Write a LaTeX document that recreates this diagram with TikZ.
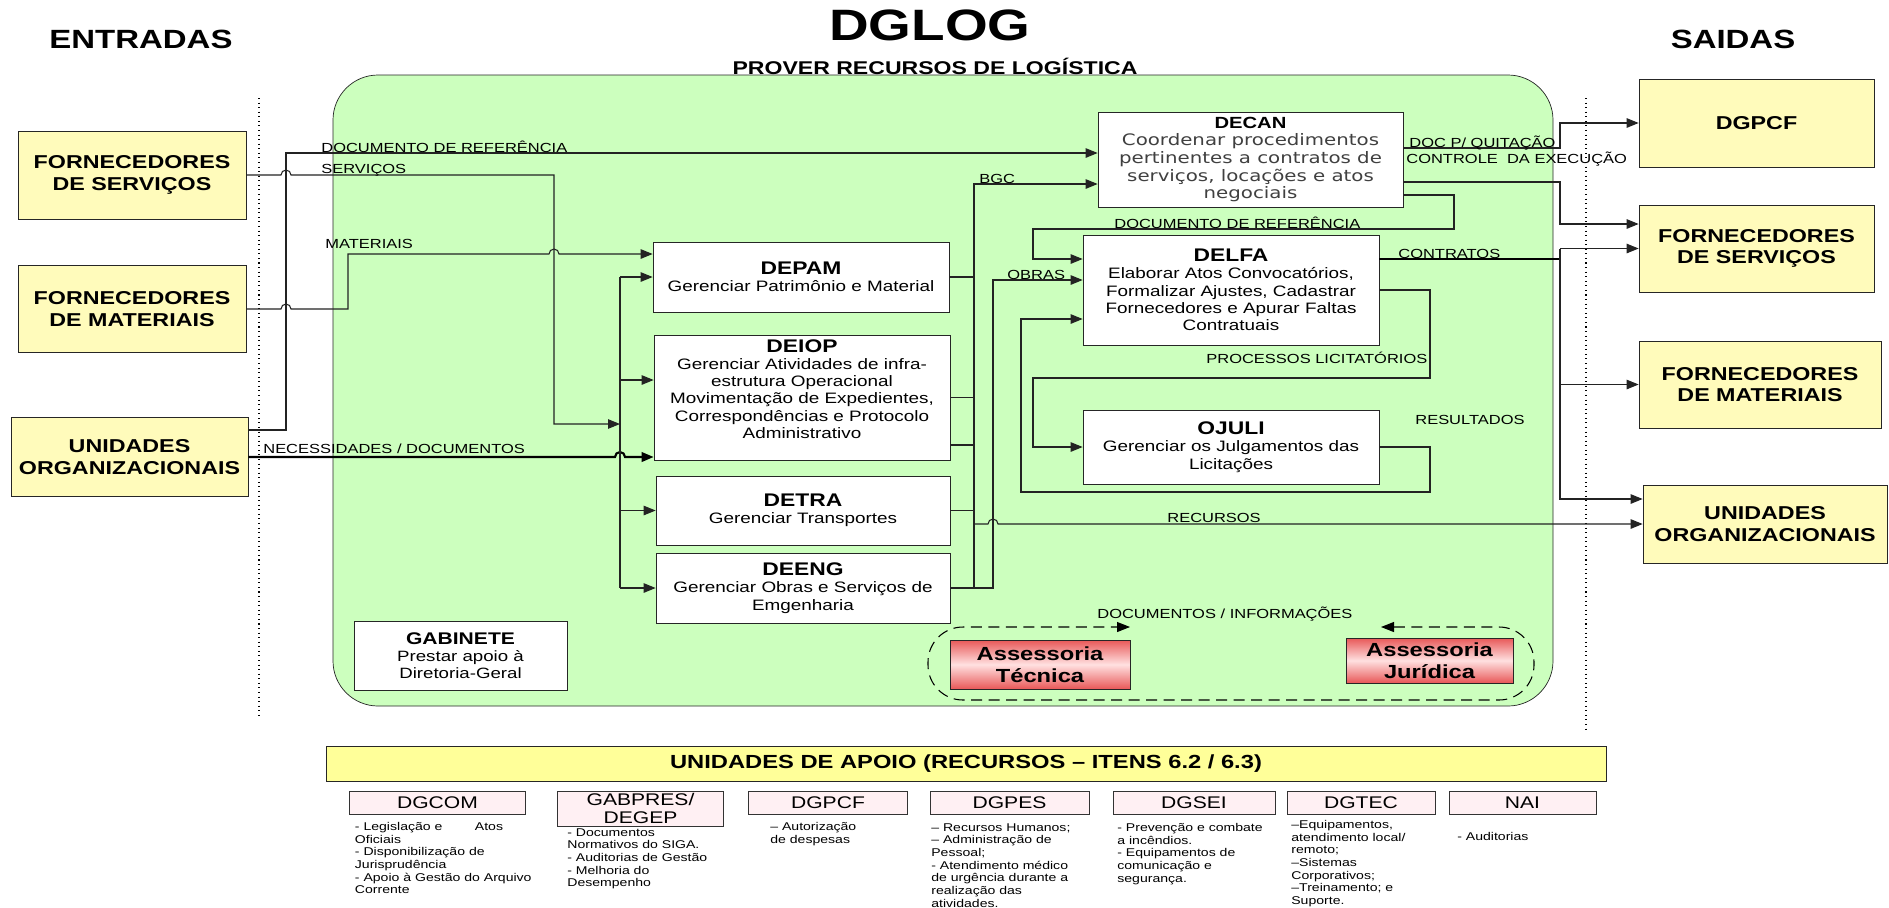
\documentclass[tikz,border=0pt]{standalone}
\usepackage{fontspec}
\setmainfont{Liberation Sans}[FakeStretch=1.25]
\newfontfamily\decanfont{DejaVu Sans}[FakeStretch=1.25]
\usetikzlibrary{arrows.meta,positioning,calc}
\definecolor{ioyellow}{RGB}{255,251,187}
\definecolor{procgreen}{RGB}{204,255,190}
\definecolor{apoioyellow}{RGB}{255,255,153}
\definecolor{apoiopink}{RGB}{255,240,243}
\definecolor{assred}{RGB}{232,88,88}
\definecolor{lineg}{RGB}{35,35,35}
\newcommand{\boxtitle}[1]{{\fontsize{10.4}{11}\selectfont\bfseries #1}}
\newcommand{\hop}{arc[start angle=180,end angle=360,radius=5]}

\begin{document}
\begin{tikzpicture}[x=0.2mm, y=-0.2mm,
    iobox/.style={rectangle, draw=black!85, fill=ioyellow, align=center,
                  font=\fontsize{10.6}{12.2}\selectfont\bfseries, inner sep=1pt},
    procbox/.style={rectangle, draw=black!85, fill=white, align=center,
                    font=\fontsize{8.6}{9.8}\selectfont, inner sep=1pt},
    assbox/.style={rectangle, draw=black!85, top color=assred, bottom color=assred,
                   middle color=white!88!red, align=center,
                   font=\fontsize{10.8}{12.4}\selectfont\bfseries, inner sep=1pt},
    supbox/.style={rectangle, draw=black!80, fill=apoiopink, align=center,
                   font=\fontsize{9.6}{9.8}\selectfont, inner sep=1pt, minimum height=4.6mm},
    supnote/.style={anchor=north west, align=left, inner sep=0pt,
                    font=\fontsize{6.4}{7.2}\selectfont},
    lbl/.style={anchor=base west, inner sep=0pt, font=\fontsize{7.5}{8}\selectfont},
    link/.style={draw=lineg, line width=0.6pt},
    flow/.style={link, -{Triangle[length=2.4mm,width=1.9mm]}},
    heavy/.style={draw=black, line width=1.2pt},
    dashloop/.style={draw=black, line width=0.6pt, dash pattern=on 2.2mm off 1.3mm,
                     rounded corners=7mm,
                     {Triangle[length=2.6mm,width=2mm]}-{Triangle[length=2.6mm,width=2mm]}}
  ]
    \useasboundingbox (0,0) rectangle (1889,907);

    % Process area
    \draw[draw=black!85, fill=procgreen, rounded corners=9mm] (333,75) rectangle (1553,706);
    \draw[dotted, line width=0.6pt] (259,98) -- (259,719);
    \draw[dotted, line width=0.6pt] (1586,98) -- (1586,733);

    % Titles
    \node[anchor=base, font=\fontsize{15}{18}\selectfont\bfseries] (entradas) at (141,48) {ENTRADAS};
    \node[anchor=base, font=\fontsize{15}{18}\selectfont\bfseries] (saidas) at (1733,48) {SAIDAS};
    \node[anchor=base, font=\fontsize{25}{30}\selectfont\bfseries] (dglog) at (930,40) {DGLOG};
    \node[anchor=base, font=\fontsize{10.5}{12}\selectfont\bfseries] (prover) at (935,74)
      {PROVER RECURSOS DE LOGÍSTICA};

    % Inputs
    \node[iobox, minimum width=45.6mm, minimum height=17.6mm] (fsin) at (132,175) {FORNECEDORES\\DE SERVIÇOS};
    \node[iobox, minimum width=45.6mm, minimum height=17.4mm] (fmin) at (132,309) {FORNECEDORES\\DE MATERIAIS};
    \node[iobox, minimum width=47.4mm, minimum height=15.8mm] (uoin) at (129.5,457) {UNIDADES\\ORGANIZACIONAIS};

    % Outputs
    \node[iobox, minimum width=47mm, minimum height=17.6mm] (dgpcfout) at (1756.5,123) {DGPCF};
    \node[iobox, minimum width=47mm, minimum height=17.4mm] (fsout) at (1756.5,248.5) {FORNECEDORES\\DE SERVIÇOS};
    \node[iobox, minimum width=48.4mm, minimum height=17.4mm] (fmout) at (1760,384.5) {FORNECEDORES\\DE MATERIAIS};
    \node[iobox, minimum width=48.8mm, minimum height=15.6mm] (uoout) at (1765,524) {UNIDADES\\ORGANIZACIONAIS};

    % Departments
    \node[procbox, minimum width=59.2mm, minimum height=14mm] (depam) at (801,277)
      {\boxtitle{DEPAM}\\Gerenciar Patrimônio e Material};
    \node[procbox, minimum width=59.2mm, minimum height=25mm] (deiop) at (802,397.5)
      {\boxtitle{DEIOP}\\Gerenciar Atividades de infra-\\estrutura Operacional\\Movimentação de Expedientes,\\Correspondências e Protocolo\\Administrativo\\\mbox{}};
    \node[procbox, minimum width=58.8mm, minimum height=13.8mm] (detra) at (803,510.5)
      {\boxtitle{DETRA}\\Gerenciar Transportes};
    \node[procbox, minimum width=58.8mm, minimum height=14mm] (deeng) at (803,588)
      {\boxtitle{DEENG}\\Gerenciar Obras e Serviços de\\Emgenharia};
    \node[procbox, minimum width=61mm, minimum height=19mm, text=black!75,
          font=\decanfont\fontsize{9}{10}\selectfont] (decan) at (1250.5,159.5)
      {{\rmfamily\fontsize{9.2}{10}\selectfont\bfseries\color{black}DECAN}\\Coordenar procedimentos\\pertinentes a contratos de\\serviços, locações e atos\\negociais};
    \node[procbox, minimum width=59.2mm, minimum height=22mm] (delfa) at (1231,290)
      {\boxtitle{DELFA}\\Elaborar Atos Convocatórios,\\Formalizar Ajustes, Cadastrar\\Fornecedores e Apurar Faltas\\Contratuais};
    \node[procbox, minimum width=59.2mm, minimum height=14.8mm] (ojuli) at (1231,447)
      {\boxtitle{OJULI}\\Gerenciar os Julgamentos das\\Licitações};
    \node[procbox, minimum width=42.6mm, minimum height=13.8mm, font=\fontsize{8.5}{9.8}\selectfont] (gabinete) at (460.5,655.5)
      {{\fontsize{9.6}{11}\selectfont\bfseries GABINETE}\\Prestar apoio à\\Diretoria-Geral};
    \node[assbox, minimum width=36mm, minimum height=9.8mm] (asstec) at (1040,664.5) {Assessoria\\Técnica};
    \node[assbox, minimum width=33.4mm, minimum height=9mm] (assjur) at (1429.5,660.5) {Assessoria\\Jurídica};

    % Support units
    \node[rectangle, draw=black!85, fill=apoioyellow, minimum width=256mm, minimum height=7mm,
          font=\fontsize{10.8}{12}\selectfont\bfseries] (apoio) at (966,763.5)
      {UNIDADES DE APOIO (RECURSOS – ITENS 6.2 / 6.3)};
    \node[supbox, minimum width=35.2mm] (dgcom) at (437.5,802.5) {DGCOM};
    \node[supbox, minimum width=33.2mm, minimum height=7mm] (gabpres) at (640.5,808.5) {GABPRES/\\DEGEP};
    \node[supbox, minimum width=31.9mm] (dgpcf) at (828,802.5) {DGPCF};
    \node[supbox, minimum width=31.8mm] (dgpes) at (1009.5,802.5) {DGPES};
    \node[supbox, minimum width=32.4mm] (dgsei) at (1194,802.5) {DGSEI};
    \node[supbox, minimum width=29.6mm] (dgtec) at (1361,802.5) {DGTEC};
    \node[supbox, minimum width=29.4mm] (nai) at (1522.5,802.5) {NAI};

    \node[supnote] (ndgcom) at (354.6,822)
      {- Legislação e\hspace{6.5mm}Atos\\Oficiais\\- Disponibilização de\\Jurisprudência\\- Apoio à Gestão do Arquivo\\Corrente};
    \node[supnote] (ngabpres) at (567,828)
      {- Documentos\\Normativos do SIGA.\\- Auditorias de Gestão\\- Melhoria do\\Desempenho};
    \node[supnote] (ndgpcf) at (770,822) {– Autorização\\de despesas};
    \node[supnote] (ndgpes) at (931,823)
      {– Recursos Humanos;\\– Administração de\\Pessoal;\\- Atendimento médico\\de urgência durante a\\realização das\\atividades.};
    \node[supnote] (ndgsei) at (1117,823)
      {- Prevenção e combate\\a incêndios.\\- Equipamentos de\\comunicação e\\segurança.};
    \node[supnote] (ndgtec) at (1291,820)
      {–Equipamentos,\\atendimento local/\\remoto;\\–Sistemas\\Corporativos;\\–Treinamento; e\\Suporte.};
    \node[supnote] (nnai) at (1457,832) {- Auditorias};

    % Bend points
    \coordinate (dA) at (286,430);
    \coordinate (dB) at (286,153);
    \coordinate (sA) at (554,175);
    \coordinate (sB) at (554,424);
    \coordinate (mA) at (348,309);
    \coordinate (mB) at (348,254);
    \coordinate (bIn) at (620,0);
    \coordinate (bOut) at (974,0);
    \coordinate (bObr) at (993,0);
    \coordinate (gB) at (974,184);
    \coordinate (oB) at (993,280);
    \coordinate (vR) at (1560,0);
    \coordinate (lA) at (1454,229);
    \coordinate (lB) at (1033,229);
    \coordinate (pA) at (1430,378);
    \coordinate (pB) at (1033,378);
    \coordinate (rA) at (1430,492);
    \coordinate (rB) at (1021,492);
    % hop starts
    \coordinate (hS) at (281,175);
    \coordinate (hM) at (281,309);
    \coordinate (hMa) at (549,254);
    \coordinate (hN) at (615,457);
    \coordinate (hR) at (988,524);

    % Inputs to departments
    \draw[flow] (uoin.east |- dA) -- (dA) -- (dB) -- (decan.west |- dB);
    \draw[flow] (fsin.east) -- (hS) \hop -- (sA) -- (sB) -- (sB -| bIn);
    \draw[flow] (fmin.east) -- (hM) \hop -- (mA) -- (mB) -- (hMa) \hop -- (depam.west |- mB);
    \draw[flow, heavy] (uoin.east) -- (hN) \hop -- (deiop.west |- uoin.east);

    \draw[link] (depam.west -| bIn) -- (deeng.west -| bIn);
    \draw[flow] (depam.west -| bIn) -- (depam.west);
    \draw[flow] ([yshift=3.5mm]deiop.west -| bIn) -- ([yshift=3.5mm]deiop.west);
    \draw[flow] (detra.west -| bIn) -- (detra.west);
    \draw[flow] (deeng.west -| bIn) -- (deeng.west);

    % Department outputs
    \draw[flow] (deeng.east -| bOut) -- (gB) -- (decan.west |- gB);
    \draw[link] (depam.east) -- (depam.east -| bOut);
    \draw[link] (deiop.east) -- (deiop.east -| bOut);
    \draw[link] ([yshift=-9.5mm]deiop.east) -- ([yshift=-9.5mm]deiop.east -| bOut);
    \draw[link] (detra.east) -- (detra.east -| bOut);
    \draw[flow] (deeng.east) -- (deeng.east -| bObr) -- (oB) -- (delfa.west |- oB);
    \draw[flow] (uoout.west -| bOut) -- (hR) \hop -- (uoout.west);

    % DECAN
    \draw[flow] ([yshift=2.3mm]decan.east) -| (vR |- dgpcfout.west) -- (dgpcfout.west);
    \draw[flow] ([yshift=-4.5mm]decan.east) -| ([yshift=4.9mm]fsout.west -| vR) -- ([yshift=4.9mm]fsout.west);
    \draw[flow] ([yshift=-7.1mm]decan.east) -| (lA) -- (lB) |- ([yshift=6.2mm]delfa.west);

    % DELFA and OJULI
    \draw[heavy] ([yshift=6.2mm]delfa.east) -- ([yshift=6.2mm]delfa.east -| vR);
    \draw[flow] (fsout.west -| vR) -- (fsout.west);
    \draw[flow] (fsout.west -| vR) -- ([yshift=5mm]uoout.west -| vR) -- ([yshift=5mm]uoout.west);
    \draw[flow] (fmout.west -| vR) -- (fmout.west);
    \draw[flow] (delfa.east) -| (pA) -- (pB) |- (ojuli.west);
    \draw[flow] (ojuli.east) -| (rA) -- (rB) |- ([yshift=-5.8mm]delfa.west);

    % Advisory loop
    \coordinate (ddL) at (1130,627);
    \coordinate (ddR) at (1381,627);
    \coordinate (dNW) at (928,627);
    \coordinate (dSE) at (1534,700);
    \draw[dashloop] (ddR) -- (dSE |- ddR) -- (dSE) -- (dNW |- dSE) -- (dNW) -- (ddL);

    % Flow labels
    \node[lbl] (lDocA) at (321,152) {DOCUMENTO DE REFERÊNCIA};
    \node[lbl] (lServ) at (321,173) {SERVIÇOS};
    \node[lbl] (lMat) at (325,248) {MATERIAIS};
    \node[lbl] (lNec) at (263,453) {NECESSIDADES / DOCUMENTOS};
    \node[lbl] (lBgc) at (979,183) {BGC};
    \node[lbl] (lObras) at (1007,279) {OBRAS};
    \node[lbl] (lQuit) at (1409,147) {DOC P/ QUITAÇÃO};
    \node[lbl] (lCtrl) at (1406,163) {CONTROLE\ \ DA EXECUÇÃO};
    \node[lbl] (lDocB) at (1114,228) {DOCUMENTO DE REFERÊNCIA};
    \node[lbl] (lContr) at (1398,258) {CONTRATOS};
    \node[lbl] (lProc) at (1206,363) {PROCESSOS LICITATÓRIOS};
    \node[lbl] (lRes) at (1415,424) {RESULTADOS};
    \node[lbl] (lRec) at (1167,522) {RECURSOS};
    \node[lbl] (lDocInf) at (1097,618) {DOCUMENTOS / INFORMAÇÕES};
  \end{tikzpicture}
\end{document}
